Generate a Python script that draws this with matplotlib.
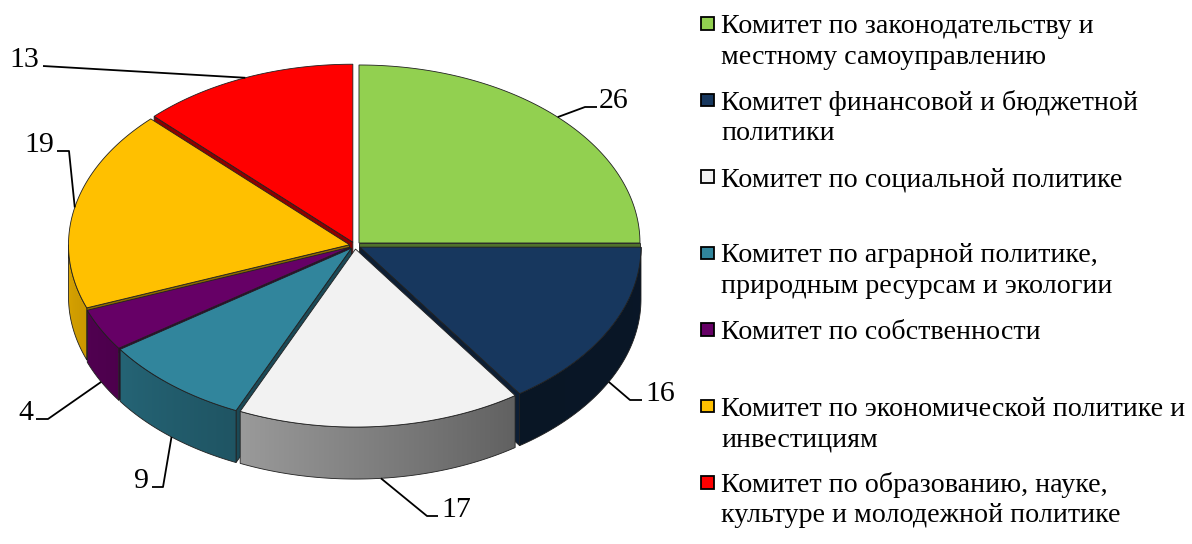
import numpy as np
import matplotlib.pyplot as plt
import matplotlib.colors as mcolors
from matplotlib.patches import Polygon, Rectangle

plt.rcParams['font.family'] = ['Liberation Serif', 'DejaVu Serif']

# data
committees = [
    'Комитет по законодательству и\nместному самоуправлению',
    'Комитет финансовой и бюджетной\nполитики',
    'Комитет по социальной политике',
    'Комитет по аграрной политике,\nприродным ресурсам и экологии',
    'Комитет по собственности',
    'Комитет по экономической политике и\nинвестициям',
    'Комитет по образованию, науке,\nкультуре и молодежной политике',
]
values = [26, 16, 17, 9, 4, 19, 13]
colors = ['#92D050', '#17375E', '#F2F2F2', '#31859C', '#660066', '#FFC000', '#FF0000']

# pie geometry (pixels, y down)
cx, cy = 355, 245.5
rx, ry = 281, 178
depth = 52
explode = 0.02
edge = '#202020'

# label layout: elbow point, end of stub, text x, alignment
label_layout = [
    ((585, 107), (597, 107), 599, 'left'),
    ((630, 400), (642, 400), 645, 'left'),
    ((427, 516), (438, 516), 441, 'left'),
    ((163, 487), (152, 487), 149, 'right'),
    ((48, 419), (36, 419), 33, 'right'),
    ((69, 151), (57, 151), 54, 'right'),
    ((43, 66), (43, 66), 39, 'right'),
]


def shade(phi):
    return np.interp(phi, [90, 145, 205, 235, 270], [0.42, 0.40, 0.64, 0.75, 0.85])


def darker(c, f):
    r, g, b = mcolors.to_rgb(c)
    return (r * f, g * f, b * f)


def rim(phi, ox, oy, dz=0.0):
    t = np.radians(phi)
    return (cx + ox + rx * np.sin(t), cy + oy - ry * np.cos(t) + dz)


fig = plt.figure(figsize=(11.92, 5.44), dpi=100)
ax = fig.add_axes([0, 0, 1, 1])
ax.set_xlim(0, 1192)
ax.set_ylim(544, 0)
ax.axis('off')

total = sum(values)
bounds = np.concatenate([[0], np.cumsum(values) / total * 360])
slices = []
for i, v in enumerate(values):
    a1, a2 = bounds[i], bounds[i + 1]
    mid = np.radians((a1 + a2) / 2)
    ox = explode * rx * np.sin(mid)
    oy = -explode * ry * np.cos(mid)
    slices.append((a1, a2, ox, oy))

# draw back slices first
order = sorted(range(len(values)),
               key=lambda k: -np.cos(np.radians((slices[k][0] + slices[k][1]) / 2)))

for i in order:
    a1, a2, ox, oy = slices[i]
    apex = (cx + ox, cy + oy)

    # radial cut faces turned to the viewer
    for b, visible in ((a1, np.sin(np.radians(a1)) < -1e-6),
                       (a2, np.sin(np.radians(a2)) > 1e-6)):
        if not visible:
            continue
        p = rim(b, ox, oy)
        quad = [apex, p, (p[0], p[1] + depth), (apex[0], apex[1] + depth)]
        ax.add_patch(Polygon(quad, closed=True, facecolor=darker(colors[i], 0.55),
                             edgecolor=edge, lw=0.6, zorder=1))

    # outer wall on the front half, shaded left to right
    lo, hi = max(a1, 90), min(a2, 270)
    if lo < hi:
        phis = np.linspace(lo, hi, 120)
        top = [rim(p, ox, oy) for p in phis]
        bot = [rim(p, ox, oy, depth) for p in phis[::-1]]
        wall = Polygon(top + bot, closed=True, facecolor='none', edgecolor=edge,
                       lw=0.6, zorder=1)
        xs = np.array([q[0] for q in top + bot])
        ys = np.array([q[1] for q in top + bot])
        x0, x1 = xs.min() - 1, xs.max() + 1
        gx = np.linspace(x0, x1, 300)
        s = np.clip((gx - cx - ox) / rx, -1, 1)
        gphi = 180 - np.degrees(np.arcsin(s))
        base = np.array(mcolors.to_rgb(colors[i]))
        img = (shade(gphi)[:, None] * base[None, :])[None, :, :]
        im = ax.imshow(img, extent=(x0, x1, ys.max() + 1, ys.min() - 1),
                       aspect='auto', interpolation='bilinear', zorder=1)
        ax.add_patch(wall)
        im.set_clip_path(wall)

    # top face
    phis = np.linspace(a1, a2, 120)
    pts = [apex] + [rim(p, ox, oy) for p in phis]
    ax.add_patch(Polygon(pts, closed=True, facecolor=colors[i], edgecolor=edge,
                         lw=0.6, zorder=1))

ax.set_xlim(0, 1192)
ax.set_ylim(544, 0)

# value labels with leader lines
for i, (a1, a2, ox, oy) in enumerate(slices):
    m = (a1 + a2) / 2
    dz = depth if 90 < m < 270 else 0
    sx, sy = rim(m, ox, oy, dz)
    (ex, ey), (tx, ty), txt_x, ha = label_layout[i]
    ax.plot([sx, ex, tx], [sy, ey, ty], color='black', lw=1.3, zorder=5,
            solid_capstyle='butt')
    ax.text(txt_x, ty + 1, str(values[i]), ha=ha, va='baseline', fontsize=21.5,
            color='black', zorder=6)

# legend
base_y = 33
entry_step = 76.5
line_step = 30.5
for i, name in enumerate(committees):
    y0 = base_y + i * entry_step
    ax.add_patch(Rectangle((701, y0 - 16), 12.5, 12.5, facecolor=colors[i],
                           edgecolor='black', lw=1.3, zorder=5))
    for k, line in enumerate(name.split('\n')):
        ax.text(721, y0 + k * line_step, line, ha='left', va='baseline',
                fontsize=20.2, fontfamily=['Liberation Serif', 'DejaVu Serif'],
                color='black')

fig.savefig('out.png', dpi=100)
